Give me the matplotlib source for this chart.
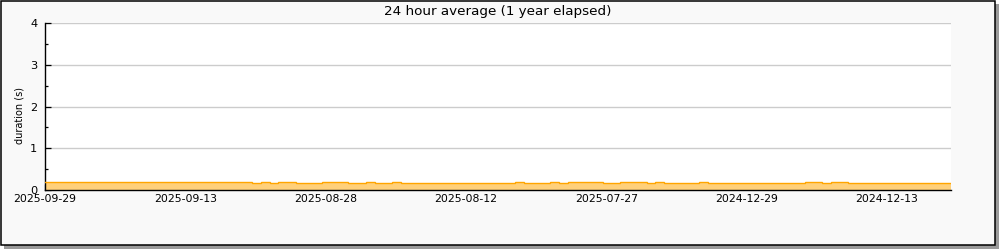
import numpy as np
import matplotlib
matplotlib.use("Agg")
import matplotlib.pyplot as plt
from matplotlib.patches import Rectangle
from matplotlib.ticker import FixedLocator, MultipleLocator

title = "24 hour average (1 year elapsed)"
ylabel = "duration (s)"
tick_labels = ["2025-09-29", "2025-09-13", "2025-08-28", "2025-08-12",
               "2025-07-27", "2024-12-29", "2024-12-13"]
tick_days = [0, 16, 32, 48, 64, 80, 96]
minor_days = [8, 24, 40, 56, 72, 88]

# one value per day (seconds)
durations = [
    0.19, 0.19, 0.19, 0.19, 0.19, 0.19, 0.19, 0.19, 0.19, 0.19,
    0.19, 0.19, 0.19, 0.19, 0.19, 0.19, 0.19, 0.19, 0.19, 0.19,
    0.19, 0.19, 0.19, 0.19, 0.16, 0.195, 0.165, 0.195, 0.195, 0.17,
    0.17, 0.17, 0.195, 0.195, 0.195, 0.17, 0.17, 0.195, 0.17, 0.17,
    0.195, 0.17, 0.17, 0.17, 0.17, 0.17, 0.17, 0.17, 0.17, 0.17,
    0.17, 0.17, 0.17, 0.17, 0.195, 0.17, 0.17, 0.17, 0.195, 0.17,
    0.195, 0.195, 0.195, 0.195, 0.17, 0.17, 0.195, 0.195, 0.195, 0.17,
    0.195, 0.17, 0.17, 0.17, 0.17, 0.195, 0.17, 0.17, 0.17, 0.17,
    0.17, 0.17, 0.17, 0.17, 0.17, 0.17, 0.17, 0.195, 0.195, 0.17,
    0.195, 0.195, 0.17, 0.17, 0.17, 0.17, 0.17, 0.17, 0.17, 0.17,
    0.17, 0.17, 0.17, 0.17,
]
day_offset = -0.4
x_max = 103.3

plt.rcParams["font.family"] = ["DejaVu Sans"]

fig = plt.figure(figsize=(10, 2.5), dpi=100, facecolor="white")

# shadow and frame
W, H = 1000.0, 250.0
fig.patches.append(Rectangle((4 / W, 1 - 248.5 / H), 994.5 / W, 244.5 / H,
                             transform=fig.transFigure, facecolor="#9a9a9a",
                             edgecolor="none", zorder=0))
fig.patches.append(Rectangle((0.6 / W, 1 - 244.6 / H), 994 / W, 244 / H,
                             transform=fig.transFigure, facecolor="#f9f9f9",
                             edgecolor="black", linewidth=1.1, zorder=1))

ax = fig.add_axes([45 / W, 1 - 190 / H, (951 - 45) / W, (190 - 23.3) / H])
ax.set_facecolor("white")
ax.set_zorder(2)

edges = np.arange(len(durations) + 1) + day_offset
ax.stairs(durations, edges, fill=True, facecolor="#ffd07a", edgecolor="none",
          linewidth=0, zorder=2)
ax.stairs(durations, edges, baseline=None, color="#ffa500", linewidth=1.0,
          zorder=3)

ax.set_xlim(0, x_max)
ax.set_ylim(0, 4)

ax.set_yticks([0, 1, 2, 3, 4])
ax.yaxis.set_minor_locator(MultipleLocator(0.5))
ax.grid(axis="y", which="major", color="#cccccc", linewidth=1.0, zorder=1)
ax.set_axisbelow(True)

ax.xaxis.set_major_locator(FixedLocator(tick_days))
ax.xaxis.set_minor_locator(FixedLocator(minor_days))
ax.set_xticklabels(tick_labels)

ax.tick_params(axis="x", which="both", direction="in", length=4.2, width=0.9,
               color="black", labelsize=7.8, pad=3, labelcolor="black")
ax.tick_params(axis="y", which="major", direction="in", length=4.2, width=0.9,
               labelsize=8.2, pad=5.5)
ax.tick_params(axis="y", which="minor", direction="in", length=2.4, width=0.9)

for s in ["top", "right"]:
    ax.spines[s].set_visible(False)
ax.spines["left"].set_linewidth(1.0)
ax.spines["bottom"].set_linewidth(1.0)

fig.text(498 / W, 1 - 11 / H, title, ha="center", va="center", fontsize=9.7,
         zorder=5)
fig.text(20 / W, 1 - 115 / H, ylabel, ha="center", va="center", rotation=90,
         fontsize=7.0, zorder=5)

fig.savefig("out.png", dpi=100, facecolor=fig.get_facecolor())
